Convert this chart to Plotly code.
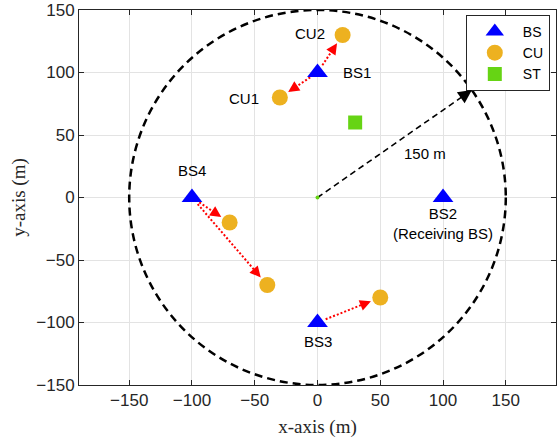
import numpy as np
import plotly.graph_objects as go

# ---- data ----
bs_names = ["BS1", "BS2", "BS3", "BS4"]
bs_x = [0, 100, 0, -100]
bs_y = [100, 0, -100, 0]

cu_names = ["CU1", "CU2", "CU3", "CU4", "CU5"]
cu_x = [-30, 20, -70, -40, 50]
cu_y = [80, 130, -20, -70, -80]

st_x = [30]
st_y = [60]

# links BS index -> CU index
link_bs = [0, 0, 3, 3, 2]
link_cu = [1, 0, 2, 3, 4]

radius = 150
radius_arrow_end = [123, 86]

x_ticks = [-150, -100, -50, 0, 50, 100, 150]
y_ticks = [-150, -100, -50, 0, 50, 100, 150]

# ---- styling ----
BLUE = "#0000FF"
ORANGE = "#EDB120"
GREEN = "#66D414"
RED = "#FF0000"
AX = "#262626"
GRID = "#E3E3E3"
SANS = "Liberation Sans, Arial, sans-serif"
SERIF = "Liberation Serif, Times New Roman, serif"

fig = go.Figure()

# radius circle
fig.add_shape(type="circle", xref="x", yref="y", x0=-radius, y0=-radius, x1=radius, y1=radius,
              line=dict(color="black", width=2.5, dash="8px,5px"))

# radius arrow (dashed line + head)
ex, ey = radius_arrow_end
L = np.hypot(ex, ey)
ux, uy = ex / L, ey / L
fig.add_trace(go.Scatter(x=[0, ex - ux * 5], y=[0, ey - uy * 5], mode="lines",
                         line=dict(color="black", width=1.6, dash="6px,4px"),
                         showlegend=False, hoverinfo="skip"))
fig.add_annotation(x=ex, y=ey, xref="x", yref="y", ax=-ux * 12, ay=uy * 12,
                   text="", showarrow=True, arrowhead=2, arrowsize=1.7, arrowwidth=1.6,
                   arrowcolor="black")

# origin dot
fig.add_trace(go.Scatter(x=[0], y=[0], mode="markers",
                         marker=dict(color=GREEN, size=4), showlegend=False, hoverinfo="skip"))

# BS -> CU dotted arrows
for b, c in zip(link_bs, link_cu):
    x0, y0 = bs_x[b], bs_y[b]
    x1, y1 = cu_x[c], cu_y[c]
    d = np.hypot(x1 - x0, y1 - y0)
    ux, uy = (x1 - x0) / d, (y1 - y0) / d
    sx, sy = x0 + ux * 7, y0 + uy * 7
    tx, ty = x1 - ux * 8, y1 - uy * 8
    fig.add_trace(go.Scatter(x=[sx, tx - ux * 3], y=[sy, ty - uy * 3], mode="lines",
                             line=dict(color=RED, width=2, dash="2px,2px"),
                             showlegend=False, hoverinfo="skip"))
    fig.add_annotation(x=tx, y=ty, xref="x", yref="y", ax=-ux * 7, ay=uy * 7,
                       text="", showarrow=True, arrowhead=2, arrowsize=1.1, arrowwidth=2,
                       arrowcolor=RED)

# markers
fig.add_trace(go.Scatter(x=bs_x, y=bs_y, mode="markers", name="BS",
                         marker=dict(symbol="triangle-up", size=18, color=BLUE)))
fig.add_trace(go.Scatter(x=cu_x, y=cu_y, mode="markers", name="CU",
                         marker=dict(symbol="circle", size=16, color=ORANGE)))
fig.add_trace(go.Scatter(x=st_x, y=st_y, mode="markers", name="ST",
                         marker=dict(symbol="square", size=14, color=GREEN)))

lab_font = dict(family=SANS, size=15, color="black")
# BS labels
bs_label = ["BS1", "BS2<br>(Receiving BS)", "BS3", "BS4"]
bs_anchor = ["left", "center", "center", "center"]
bs_shift = [(23, 0), (0, -26), (0, -19), (0, 27)]
for i in range(4):
    fig.add_annotation(x=bs_x[i], y=bs_y[i], xref="x", yref="y", text=bs_label[i],
                       showarrow=False, xanchor=bs_anchor[i], yanchor="middle",
                       xshift=bs_shift[i][0], yshift=bs_shift[i][1], font=lab_font)
# CU labels
for i, (sx_, sy_) in [(0, (-19, -1)), (1, (-16, 2))]:
    fig.add_annotation(x=cu_x[i], y=cu_y[i], xref="x", yref="y", text=cu_names[i],
                       showarrow=False, xanchor="right", yanchor="middle",
                       xshift=sx_, yshift=sy_, font=lab_font)

fig.add_annotation(x=67, y=35, xref="x", yref="y", text="150 m", showarrow=False,
                   xanchor="left", yanchor="middle", font=lab_font)

axis_common = dict(showgrid=True, gridcolor=GRID, gridwidth=1, zeroline=False,
                   showline=True, linecolor=AX, linewidth=1, mirror="allticks",
                   ticks="inside", ticklen=5, tickcolor=AX, automargin=False,
                   tickfont=dict(family=SANS, size=17, color=AX))

fig.update_layout(
    width=557, height=440, autosize=False,
    margin=dict(l=79, r=1, t=10, b=55, autoexpand=False),
    paper_bgcolor="white", plot_bgcolor="white",
    xaxis=dict(range=[-190, 190], tickvals=x_ticks, **axis_common,
               title=dict(text="x-axis (m)", font=dict(family=SERIF, size=19, color=AX), standoff=10)),
    yaxis=dict(range=[-150, 150], tickvals=y_ticks, **axis_common,
               title=dict(text="y-axis (m)", font=dict(family=SERIF, size=19, color=AX), standoff=5)),
    legend=dict(x=0.987, y=0.987, xanchor="right", yanchor="top",
                bgcolor="white", bordercolor=AX, borderwidth=1,
                font=dict(family=SANS, size=14, color="black"),
                tracegroupgap=0, itemwidth=46),
    showlegend=True,
)

fig.write_html("out.html", config={"displayModeBar": False},
               post_script="document.body.style.margin='0';document.body.style.overflow='hidden';")
